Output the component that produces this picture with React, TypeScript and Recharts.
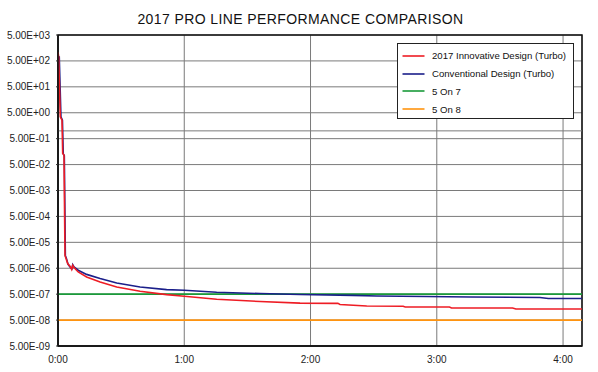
import React from 'react';
import { LineChart, Line, XAxis, YAxis, CartesianGrid, ReferenceLine, ReferenceArea } from 'recharts';

// ---- data (time in seconds, values) ----
const redTimes = [0, 0.33, 1.09, 1.9, 2.23, 2.85, 3.33, 3.66, 4.6, 5.7, 6.5, 7.0, 7.6, 9.6, 13.6, 20, 27.9, 39, 51.6, 60, 75.4, 96, 115, 133, 134, 146.7, 164, 165, 186, 187, 216, 217.6, 249];
const redValues = [1100, 700, 3.5, 2.6, 0.135, 0.116, 1.6e-5, 1.3e-5, 7.6e-6, 6.0e-6, 4.5e-6, 6.5e-6, 5.3e-6, 3.6e-6, 2.3e-6, 1.48e-6, 9.5e-7, 6.5e-7, 4.8e-7, 4.15e-7, 3.2e-7, 2.6e-7, 2.25e-7, 2.2e-7, 2.0e-7, 1.75e-7, 1.7e-7, 1.6e-7, 1.6e-7, 1.47e-7, 1.47e-7, 1.34e-7, 1.34e-7];

const blueTimes = [0.2, 0.6, 1.4, 2.1, 2.5, 3.0, 3.5, 4.0, 4.8, 5.8, 6.6, 7.0, 7.6, 9.6, 13.6, 20, 27.9, 39, 51.6, 60, 75.4, 96, 115, 140, 151.4, 175, 196, 229, 233, 249];
const blueValues = [700, 700, 3.5, 2.6, 0.13, 0.11, 1.5e-5, 1.2e-5, 7.0e-6, 5.5e-6, 4.8e-6, 6.8e-6, 5.6e-6, 4.2e-6, 2.9e-6, 2.0e-6, 1.35e-6, 9.5e-7, 7.5e-7, 7.1e-7, 5.9e-7, 5.27e-7, 4.83e-7, 4.5e-7, 4.25e-7, 4.05e-7, 3.9e-7, 3.7e-7, 3.4e-7, 3.4e-7];

const limitTimes = [0, 249];
const fiveOn7Values = [5e-7, 5e-7];
const fiveOn8Values = [5e-8, 5e-8];

const yTicks = [5e3, 5e2, 5e1, 5e0, 5e-1, 5e-2, 5e-3, 5e-4, 5e-5, 5e-6, 5e-7, 5e-8, 5e-9];
const xTicks = [0, 60, 120, 180, 240];
const xTickLabels = ['0:00', '1:00', '2:00', '3:00', '4:00'];

const title = '2017 PRO LINE PERFORMANCE COMPARISON';

const seriesNames = ['2017 Innovative Design (Turbo)', 'Conventional Design (Turbo)', '5 On 7', '5 On 8'];
const seriesColors = ['#ee1c24', '#1b1f8a', '#1a9a3a', '#ff9410'];

const zip = (ts: number[], vs: number[]) => ts.map((t, i) => ({ t, v: vs[i] }));
const redData = zip(redTimes, redValues);
const blueData = zip(blueTimes, blueValues);
const green = zip(limitTimes, fiveOn7Values);
const orange = zip(limitTimes, fiveOn8Values);

const fmtY = (v: number) => {
  const [m, e] = v.toExponential(2).split('e');
  const n = parseInt(e, 10);
  return `${m}E${n < 0 ? '-' : '+'}${String(Math.abs(n)).padStart(2, '0')}`;
};
const fmtX = (v: number) => {
  const i = xTicks.indexOf(v);
  return i >= 0 ? xTickLabels[i] : '';
};

const FONT = '"Liberation Sans", Arial, sans-serif';

const LegendBox = () => (
  <div
    style={{
      position: 'absolute',
      left: 397,
      top: 42.5,
      width: 176.5,
      height: 76.5,
      boxSizing: 'border-box',
      border: '1.5px solid #222',
      background: '#fff',
      paddingTop: 3.5,
      fontFamily: FONT,
      fontSize: 9.6,
      color: '#111',
    }}
  >
    {seriesNames.map((n, i) => (
      <div key={n} style={{ height: 17.8, display: 'flex', alignItems: 'center' }}>
        <svg width={34} height={6} style={{ flex: 'none' }}>
          <line x1={4.5} x2={26.5} y1={3} y2={3} stroke={seriesColors[i]} strokeWidth={1.6} />
        </svg>
        <span style={{ whiteSpace: 'nowrap' }}>{n}</span>
      </div>
    ))}
  </div>
);

export default function App() {
  return (
    <div style={{ position: 'absolute', left: 0, top: 0, width: 598, height: 372, background: '#fff' }}>
      <svg width={598} height={34} style={{ position: 'absolute', left: 0, top: 0 }}>
        <text x={300.5} y={24} textAnchor="middle" fontFamily={FONT} fontSize={14} letterSpacing={0.4} fill="#111">
          {title}
        </text>
      </svg>
      <LineChart width={598} height={372} margin={{ top: 35, right: 16, left: 0, bottom: 0 }} style={{ position: 'absolute', left: 0, top: 0 }}>
        <CartesianGrid stroke="#7a7a7a" strokeWidth={1} />
        <XAxis
          dataKey="t"
          type="number"
          domain={[0, 249]}
          ticks={xTicks}
          tickFormatter={fmtX}
          allowDataOverflow
          height={26}
          tickSize={0}
          tickMargin={10}
          axisLine={{ stroke: '#111', strokeWidth: 1.5 }}
          tick={{ fontFamily: FONT, fontSize: 10, fill: '#222' }}
        />
        <YAxis
          dataKey="v"
          type="number"
          scale="log"
          domain={[5e-9, 5e3]}
          ticks={yTicks}
          tickFormatter={fmtY}
          allowDataOverflow
          interval={0}
          width={58}
          tickSize={2}
          tickMargin={6}
          axisLine={{ stroke: '#111', strokeWidth: 1.5 }}
          tickLine={{ stroke: '#333' }}
          tick={{ fontFamily: FONT, fontSize: 10, fill: '#222' }}
        />
        <ReferenceLine y={1} stroke="#7a7a7a" strokeWidth={1} />
        <ReferenceArea x1={0} x2={249} y1={5e-9} y2={5e3} stroke="#111" strokeWidth={1.5} fill="none" fillOpacity={0} />
        <Line data={orange} dataKey="v" name={seriesNames[3]} stroke={seriesColors[3]} strokeWidth={1.6} dot={false} isAnimationActive={false} />
        <Line data={green} dataKey="v" name={seriesNames[2]} stroke={seriesColors[2]} strokeWidth={1.6} dot={false} isAnimationActive={false} />
        <Line data={blueData} dataKey="v" name={seriesNames[1]} stroke={seriesColors[1]} strokeWidth={1.6} dot={false} isAnimationActive={false} />
        <Line data={redData} dataKey="v" name={seriesNames[0]} stroke={seriesColors[0]} strokeWidth={1.6} dot={false} isAnimationActive={false} />
      </LineChart>
      <LegendBox />
    </div>
  );
}
